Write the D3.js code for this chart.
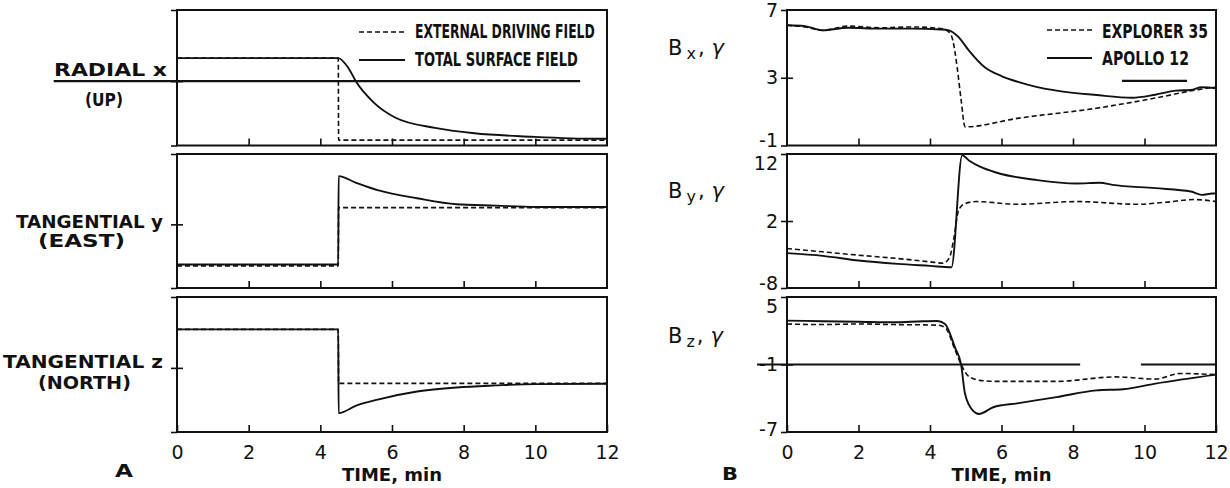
<!DOCTYPE html>
<html>
<head>
  <meta charset="utf-8">
  <title>Surface field response</title>
  <script src="https://d3js.org/d3.v7.min.js"></script>
  <style>
    body { margin: 0; background: #fff; }
    svg { display: block; font-family: "DejaVu Sans", Arial, sans-serif; }
    .lbl { font-size: 18px; fill: #111; font-weight: bold; }
    .blbl { font-size: 21px; fill: #111; }
    .leg { font-family: "DejaVu Sans Condensed", "DejaVu Sans", sans-serif; font-size: 20px; fill: #111; font-weight: bold; }
    .tick text { font-family: "DejaVu Sans", Arial, sans-serif; font-size: 19px; fill: #111; }
  </style>
</head>
<body>
<div id="chart"></div>
<script>
// ---- data (time in minutes) ----
const timeTicks = [0, 2, 4, 6, 8, 10, 12];
const innerTicks = [2, 4, 6, 8, 10];

// A: model, arbitrary units
const radialExtT = [0, 4.5, 4.51, 12];
const radialExt  = [3.4, 3.4, -8.7, -8.7];
const radialTotT = [0, 4.5, 4.8, 5.0, 5.5, 6.1, 7.2, 8.3, 9.9, 11.7, 12];
const radialTot  = [3.4, 3.4, 1.8, -0.1, -3.2, -5.4, -6.9, -7.7, -8.2, -8.5, -8.5];

const eastExtT = [0, 4.5, 4.51, 12];
const eastExt  = [-6.2, -6.2, 2.5, 2.5];
const eastTotT = [0, 4.5, 4.51, 5.0, 5.6, 6.7, 7.8, 8.9, 10, 12];
const eastTot  = [-6.0, -6.0, 7.2, 6.2, 5.1, 3.9, 3.0, 2.8, 2.6, 2.6];

const northExtT = [0, 4.5, 4.51, 12];
const northExt  = [5.7, 5.7, -2.3, -2.3];
const northTotT = [0, 4.5, 4.51, 5.0, 5.6, 6.7, 7.8, 8.9, 10, 12];
const northTot  = [5.7, 5.7, -6.7, -5.6, -4.7, -3.5, -2.9, -2.6, -2.4, -2.35];

// B: measured, gamma
const bxExpT = [0, 0.5, 1.0, 1.7, 2.6, 3.5, 4.3, 4.53, 4.64, 4.76, 4.87, 4.98, 6.44, 8.65, 10.3, 11.5, 12];
const bxExp  = [6.1, 6.0, 5.8, 6.05, 5.95, 6.0, 5.9, 5.7, 5.2, 3.6, 1.7, 0.1, 0.6, 1.2, 1.8, 2.3, 2.45];
const bxApoT = [0, 0.5, 1.0, 1.7, 2.6, 3.5, 4.3, 4.53, 4.8, 5.09, 5.54, 6.0, 6.44, 7.0, 7.54, 8.65, 9.66, 10.3, 10.88, 11.3, 11.6, 12];
const bxApo  = [6.1, 6.05, 5.8, 5.95, 5.9, 5.9, 5.85, 5.8, 5.4, 4.6, 3.6, 3.1, 2.77, 2.45, 2.24, 1.98, 1.82, 2.0, 2.24, 2.28, 2.44, 2.38];

const byExpT = [0, 1, 2.0, 3.1, 4.0, 4.37, 4.55, 4.66, 4.8, 4.98, 5.3, 6.44, 8.1, 9.8, 10.6, 11.4, 12];
const byExp  = [-2.1, -2.6, -3.1, -3.6, -4.1, -4.3, -3.4, -0.8, 3.6, 4.6, 4.9, 4.5, 4.9, 4.5, 4.8, 5.2, 4.9];
const byApoT = [0, 1, 2.0, 3.1, 4.0, 4.6, 4.9, 5.1, 5.4, 5.87, 7.0, 8.1, 8.75, 9.1, 10.3, 11.3, 11.6, 11.9, 12];
const byApo  = [-2.8, -3.2, -3.9, -4.4, -4.7, -4.9, 11.8, 11.0, 10.1, 9.2, 8.1, 7.6, 7.7, 7.4, 6.9, 6.4, 5.9, 6.1, 6.1];

const bzExpT = [0, 1, 2, 3, 4.2, 4.42, 4.7, 4.87, 5.1, 5.5, 5.87, 7.54, 9.2, 10.3, 11.0, 12];
const bzExp  = [2.6, 2.55, 2.6, 2.55, 2.5, 2.3, 0.3, -1.0, -2.1, -2.45, -2.5, -2.5, -2.1, -2.3, -1.8, -1.9];
const bzApoT = [0, 1, 2, 3, 3.8, 4.2, 4.42, 4.7, 4.87, 4.98, 5.2, 5.37, 5.77, 6.44, 7.54, 8.65, 9.4, 10.3, 12];
const bzApo  = [2.9, 2.85, 2.8, 2.75, 2.85, 2.87, 2.6, 0.5, -1.0, -3.6, -5.1, -5.4, -4.8, -4.45, -3.9, -3.3, -3.2, -2.7, -1.9];

// horizontal reference bars: [t0, t1, level]
const radialBar = [[-3.44, 11.25, 0]];
const bxBar = [[9.37, 11.19, 2.81]];
const bzBar = [[-0.84, 8.2, -1], [9.9, 12, -1]];

const leftTicks = [-9.5, 0, 10.5];
const bxTicks = [-1, 3, 7];
const byTicks = [-8, 2, 12];
const bzTicks = [-7, -1, 5];

// ---- layout ----
const W = 1230, H = 488;
const rowTop = [10, 154, 297];
const rowBottom = [145.5, 288, 432];

const svg = d3.select('#chart').append('svg')
  .attr('width', W).attr('height', H);
svg.append('rect').attr('width', W).attr('height', H).attr('fill', '#fff');

const xLeft = d3.scaleLinear().domain([0, 12]).range([177, 607]);
const xRight = d3.scaleLinear().domain([0, 12]).range([787, 1216]);

function drawPanel(x, row, domain, yTicks, yLabels, bottomLabels) {
  const y = d3.scaleLinear().domain(domain).range([rowBottom[row], rowTop[row]]);
  const g = svg.append('g');

  const xa = d3.axisBottom(x)
    .tickValues(bottomLabels ? timeTicks : innerTicks)
    .tickSizeInner(-7).tickSizeOuter(0).tickPadding(14)
    .tickFormat(bottomLabels ? d3.format('d') : () => '');
  const xg = g.append('g').attr('transform', `translate(0,${rowBottom[row]})`).call(xa);
  xg.select('.domain').remove();
  xg.selectAll('line').attr('stroke', '#111').attr('stroke-width', 1.6);

  const ya = d3.axisLeft(y).tickValues(yTicks)
    .tickSize(6).tickPadding(3)
    .tickFormat(yLabels ? d => String(d) : () => '');
  const yg = g.append('g').attr('transform', `translate(${x.range()[0]},0)`).call(ya);
  yg.select('.domain').remove();
  yg.selectAll('line').attr('stroke', '#111').attr('stroke-width', 1.6);
  yg.selectAll('.tick').filter(d => d === yTicks[1]).select('line').attr('x1', 6);
  yg.selectAll('text').attr('font-size', 19);
  // keep stacked labels of adjoining panels apart
  if (row > 0) yg.selectAll('.tick').filter(d => d === yTicks[2]).select('text').attr('y', 9);
  yg.selectAll('.tick').filter(d => d === yTicks[0]).select('text').attr('y', row < 2 ? -5 : -3);

  g.append('rect')
    .attr('x', x.range()[0]).attr('y', rowTop[row])
    .attr('width', x.range()[1] - x.range()[0])
    .attr('height', rowBottom[row] - rowTop[row])
    .attr('fill', 'none').attr('stroke', '#111').attr('stroke-width', 2);

  return { g, y };
}

function addLine(p, x, ts, vs, dashed) {
  const line = d3.line()
    .x(d => x(d[0])).y(d => p.y(d[1]))
    .curve(d3.curveMonotoneX);
  p.g.append('path')
    .datum(d3.zip(ts, vs))
    .attr('d', line)
    .attr('fill', 'none')
    .attr('stroke', '#111')
    .attr('stroke-width', dashed ? 1.6 : 1.9)
    .attr('stroke-dasharray', dashed ? '5,3' : null);
}

function addBars(p, x, bars) {
  p.g.selectAll('line.bar').data(bars).enter().append('line')
    .attr('class', 'bar')
    .attr('x1', d => x(d[0])).attr('x2', d => x(d[1]))
    .attr('y1', d => p.y(d[2])).attr('y2', d => p.y(d[2]))
    .attr('stroke', '#111').attr('stroke-width', 2.2);
}

// ---- A panels ----
const pA1 = drawPanel(xLeft, 0, [-9.5, 10.5], leftTicks, false, false);
addBars(pA1, xLeft, radialBar);
addLine(pA1, xLeft, radialTotT, radialTot, false);
addLine(pA1, xLeft, radialExtT, radialExt, true);

const pA2 = drawPanel(xLeft, 1, [-9.5, 10.5], leftTicks, false, false);
addLine(pA2, xLeft, eastTotT, eastTot, false);
addLine(pA2, xLeft, eastExtT, eastExt, true);

const pA3 = drawPanel(xLeft, 2, [-9.5, 10.5], leftTicks, false, true);
addLine(pA3, xLeft, northTotT, northTot, false);
addLine(pA3, xLeft, northExtT, northExt, true);

// ---- B panels ----
const pB1 = drawPanel(xRight, 0, [-1, 7], bxTicks, true, false);
addBars(pB1, xRight, bxBar);
addLine(pB1, xRight, bxApoT, bxApo, false);
addLine(pB1, xRight, bxExpT, bxExp, true);

const pB2 = drawPanel(xRight, 1, [-8, 12], byTicks, true, false);
addLine(pB2, xRight, byApoT, byApo, false);
addLine(pB2, xRight, byExpT, byExp, true);

const pB3 = drawPanel(xRight, 2, [-7, 5], bzTicks, true, true);
addBars(pB3, xRight, bzBar);
addLine(pB3, xRight, bzApoT, bzApo, false);
addLine(pB3, xRight, bzExpT, bzExp, true);

// ---- texts ----
// squeeze/stretch a label horizontally so it spans the width seen in the figure
function label(txt, x, y, len, cls = 'lbl') {
  const t = svg.append('text').attr('class', cls).text(txt);
  const w = t.node().getComputedTextLength() || len;
  t.attr('transform', `translate(${x},${y}) scale(${len / w},1)`);
}
label('RADIAL x', 54, 76, 113);
label('(UP)', 85, 106, 38);
label('TANGENTIAL y', 16, 228, 147);
label('(EAST)', 38, 247, 87);
label('TANGENTIAL z', 3, 368, 160);
label('(NORTH)', 38, 389, 93);
label('A', 115, 477, 18);
label('B', 722, 480, 16);

svg.append('text').attr('class', 'lbl').attr('x', (xLeft.range()[0] + xLeft.range()[1]) / 2)
  .attr('y', 481).attr('text-anchor', 'middle').attr('font-size', 19).text('TIME, min');
svg.append('text').attr('class', 'lbl').attr('x', (xRight.range()[0] + xRight.range()[1]) / 2)
  .attr('y', 481).attr('text-anchor', 'middle').attr('font-size', 19).text('TIME, min');

// B-component labels
[['x', 55], ['y', 198], ['z', 343]].forEach(([sub, yy]) => {
  const t = svg.append('text').attr('class', 'blbl').attr('x', 668).attr('y', yy);
  t.append('tspan').text('B');
  t.append('tspan').attr('font-size', 16).attr('dx', 4).attr('dy', 4).text(sub);
  t.append('tspan').attr('dx', 2).attr('dy', -4).text(',');
  t.append('tspan').attr('dx', 7).attr('font-style', 'italic').text('γ');
});

// legends
function legend(x0, x1, tx, rows) {
  rows.forEach(r => {
    svg.append('line').attr('x1', x0).attr('x2', x1).attr('y1', r.ly).attr('y2', r.ly)
      .attr('stroke', '#111').attr('stroke-width', r.dashed ? 1.6 : 1.9)
      .attr('stroke-dasharray', r.dashed ? '5,3' : null);
    label(r.name, tx, r.ty, r.len, 'leg');
  });
}
legend(359, 405, 415, [
  { name: 'EXTERNAL DRIVING FIELD', ly: 32, ty: 38, len: 180, dashed: true },
  { name: 'TOTAL SURFACE FIELD', ly: 60, ty: 66, len: 163, dashed: false }
]);
legend(1047, 1092, 1102, [
  { name: 'EXPLORER 35', ly: 30, ty: 38, len: 106, dashed: true },
  { name: 'APOLLO 12', ly: 58, ty: 65, len: 87, dashed: false }
]);
</script>
</body>
</html>
